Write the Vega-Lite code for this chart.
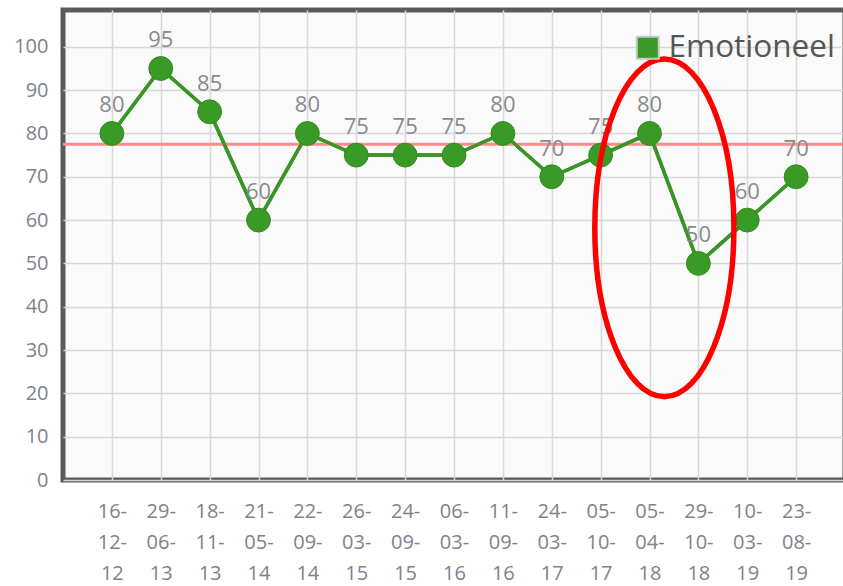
{
  "$schema": "https://vega.github.io/schema/vega-lite/v6.json",
  "width": 782,
  "height": 470,
  "autosize": {"type": "none"},
  "padding": {"left": 63, "top": 10, "right": 0, "bottom": 106},
  "background": "#ffffff",
  "config": {
    "font": "Open Sans",
    "view": {"fill": "#fafafa", "stroke": "#5a5a5a", "strokeWidth": 5}
  },
  "datasets": {
    "scores": [
      {"datum": "16-12-12", "score": 80, "serie": "Emotioneel"},
      {"datum": "29-06-13", "score": 95, "serie": "Emotioneel"},
      {"datum": "18-11-13", "score": 85, "serie": "Emotioneel"},
      {"datum": "21-05-14", "score": 60, "serie": "Emotioneel"},
      {"datum": "22-09-14", "score": 80, "serie": "Emotioneel"},
      {"datum": "26-03-15", "score": 75, "serie": "Emotioneel"},
      {"datum": "24-09-15", "score": 75, "serie": "Emotioneel"},
      {"datum": "06-03-16", "score": 75, "serie": "Emotioneel"},
      {"datum": "11-09-16", "score": 80, "serie": "Emotioneel"},
      {"datum": "24-03-17", "score": 70, "serie": "Emotioneel"},
      {"datum": "05-10-17", "score": 75, "serie": "Emotioneel"},
      {"datum": "05-04-18", "score": 80, "serie": "Emotioneel"},
      {"datum": "29-10-18", "score": 50, "serie": "Emotioneel"},
      {"datum": "10-03-19", "score": 60, "serie": "Emotioneel"},
      {"datum": "23-08-19", "score": 70, "serie": "Emotioneel"}
    ],
    "gemiddelde": [{"waarde": 77.5}],
    "markering": [{"datum": "05-04-18", "score": 58.2}]
  },
  "layer": [
    {
      "data": {"name": "scores"},
      "mark": {"type": "line", "color": "#3b9427", "strokeWidth": 3.5},
      "encoding": {
        "x": {
          "field": "datum", "type": "ordinal", "sort": null,
          "scale": {"type": "point", "padding": 1},
          "axis": {
            "title": null, "labelAngle": 0, "ticks": false, "domain": false,
            "grid": true, "gridColor": "#d8d8d8", "gridWidth": 1.5,
            "labelExpr": "[slice(datum.value,0,3), slice(datum.value,3,6), slice(datum.value,6)]",
            "labelFontSize": 20, "labelColor": "#7e828c", "labelLineHeight": 31,
            "labelPadding": 21, "labelBaseline": "top"
          }
        },
        "y": {
          "field": "score", "type": "quantitative",
          "scale": {"domain": [0, 108.5], "nice": false},
          "axis": {
            "title": null, "ticks": false, "domain": false,
            "values": [0, 10, 20, 30, 40, 50, 60, 70, 80, 90, 100],
            "grid": true, "gridColor": "#d8d8d8", "gridWidth": 1.5,
            "labelFontSize": 20, "labelColor": "#7e828c", "labelPadding": 15
          }
        }
      }
    },
    {
      "data": {"name": "gemiddelde"},
      "mark": {"type": "rule", "color": "#ff8a8a", "strokeWidth": 3},
      "encoding": {"y": {"field": "waarde", "type": "quantitative"}}
    },
    {
      "data": {"name": "scores"},
      "mark": {"type": "line", "color": "#3b9427", "strokeWidth": 3.5},
      "encoding": {
        "x": {"field": "datum", "type": "ordinal", "sort": null},
        "y": {"field": "score", "type": "quantitative"}
      }
    },
    {
      "data": {"name": "scores"},
      "mark": {"type": "point", "filled": true, "opacity": 1, "size": 570, "stroke": "#338a22", "strokeWidth": 1},
      "encoding": {
        "x": {"field": "datum", "type": "ordinal", "sort": null},
        "y": {"field": "score", "type": "quantitative"},
        "color": {
          "field": "serie", "type": "nominal",
          "scale": {"range": ["#3a9a26"]},
          "legend": {
            "orient": "none", "legendX": 569, "legendY": 22, "title": null,
            "symbolType": "square", "symbolSize": 484, "symbolOpacity": 1,
            "symbolStrokeColor": "#c8c8c8", "symbolStrokeWidth": 2,
            "labelFontSize": 31.5, "labelColor": "#555555", "labelOffset": 5,
            "labelLimit": 400
          }
        }
      }
    },
    {
      "data": {"name": "scores"},
      "mark": {"type": "text", "dy": -28, "fontSize": 22, "color": "#8a8a8a", "baseline": "middle"},
      "encoding": {
        "x": {"field": "datum", "type": "ordinal", "sort": null},
        "y": {"field": "score", "type": "quantitative"},
        "text": {"field": "score", "type": "quantitative"}
      }
    },
    {
      "data": {"name": "markering"},
      "mark": {
        "type": "point", "filled": false, "opacity": 1,
        "shape": "M -0.324 0 A 0.412 1 0 1 1 0.5 0 A 0.412 1 0 1 1 -0.324 0 Z",
        "size": 114000, "color": "#ff0000", "strokeWidth": 5.5
      },
      "encoding": {
        "x": {"field": "datum", "type": "ordinal", "sort": null},
        "y": {"field": "score", "type": "quantitative"}
      }
    }
  ]
}
